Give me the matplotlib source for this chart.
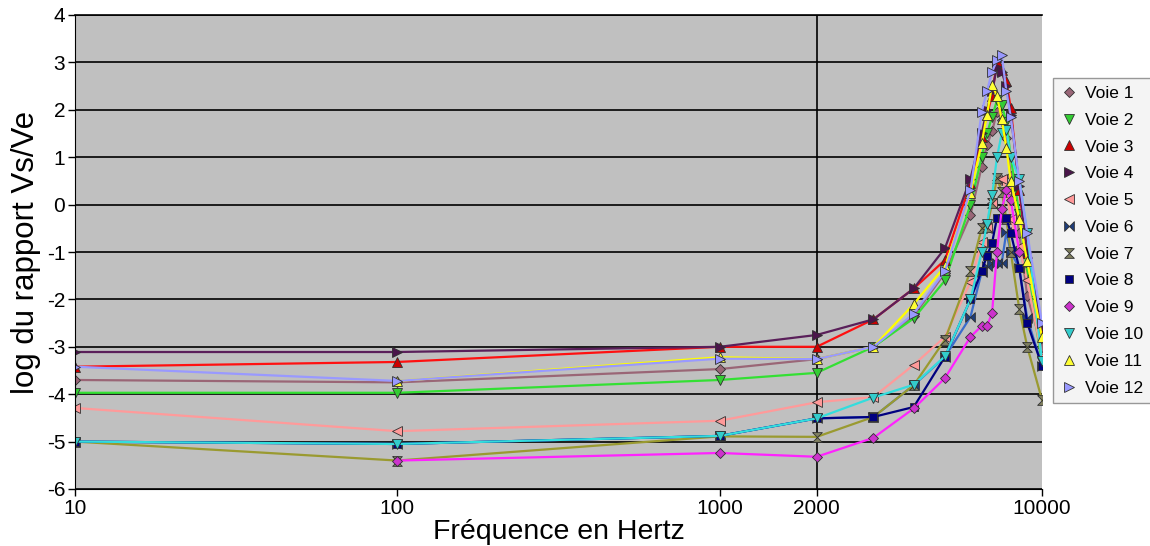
import numpy as np
import matplotlib.pyplot as plt
from matplotlib.path import Path
from matplotlib.lines import Line2D

plt.rcParams['font.family'] = ['Liberation Sans', 'DejaVu Sans']
plt.rcParams['axes.unicode_minus'] = False

# Fréquences de mesure (Hz)
freq = [10, 100, 1000, 2000, 3000, 4000, 5000, 6000, 6500, 6750,
        7000, 7250, 7500, 7750, 8000, 8500, 9000, 10000]
nan = np.nan

# log du rapport Vs/Ve pour chaque voie
voie1 = [-3.70, -3.75, -3.47, -3.26, -3.00, -2.35, -1.44, -0.22, 0.80, 1.25,
         1.55, 1.95, 1.78, 1.40, 0.60, -0.60, -1.93, -3.00]
voie2 = [-3.97, -3.97, -3.70, -3.55, -3.00, -2.40, -1.60, 0.00, 1.00, 1.50,
         1.85, 2.20, 2.10, 1.75, 1.00, -0.20, -1.42, -3.33]
voie3 = [-3.42, -3.32, -3.00, -3.00, -2.42, -1.77, -1.17, 0.46, 1.43, 1.90,
         2.30, 3.02, 2.85, 2.60, 2.04, 0.30, -1.03, -2.62]
voie4 = [-3.11, -3.11, -3.00, -2.75, -2.42, -1.77, -0.92, 0.55, 1.50, 2.00,
         2.40, 2.90, 2.80, 2.50, 1.90, 0.40, -1.00, -2.60]
voie5 = [-4.29, -4.78, -4.56, -4.17, -4.06, -3.38, -2.79, -1.63, -0.79, -0.50,
         0.03, 0.52, 0.55, 0.30, -0.30, -0.90, -1.60, -3.20]
voie6 = [-5.00, -5.05, -4.88, -4.51, -4.48, -3.81, -3.21, -2.37, -1.42, -1.30,
         -1.23, -1.23, -1.23, -0.58, -1.00, -1.34, -2.40, -3.40]
voie7 = [-5.00, -5.40, -4.89, -4.90, -4.48, -3.81, -2.85, -1.40, -0.50, -0.47,
         0.03, 0.56, 0.27, -0.30, -1.00, -2.20, -3.00, -4.12]
voie8 = [-5.00, -5.05, -4.88, -4.51, -4.48, -4.27, -3.21, -2.00, -1.40, -1.08,
         -0.81, -0.28, -0.28, -0.28, -0.60, -1.34, -2.50, -3.40]
voie9 = [nan, -5.40, -5.24, -5.32, -4.92, -4.30, -3.66, -2.79, -2.56, -2.56,
         -2.29, -1.00, -0.10, 0.30, 0.10, -1.00, nan, nan]
voie10 = [-5.00, -5.05, -4.88, -4.51, -4.07, -3.80, -3.20, -2.00, -1.00, -0.40,
          0.20, 1.00, 1.50, 1.57, 1.00, 0.55, -0.60, -3.30]
voie11 = [nan, -3.72, -3.22, -3.26, -3.00, -2.10, -1.30, 0.24, 1.30, 1.90,
          2.52, 2.30, 1.80, 1.20, 0.50, -0.30, -1.20, -2.80]
voie12 = [-3.42, -3.72, -3.25, -3.26, -3.00, -2.30, -1.40, 0.30, 1.95, 2.40,
          2.80, 3.05, 3.16, 2.40, 1.85, 0.50, -0.60, -2.50]

series = [voie1, voie2, voie3, voie4, voie5, voie6,
          voie7, voie8, voie9, voie10, voie11, voie12]
labels = ['Voie %d' % i for i in range(1, 13)]

# marqueurs façon Excel
bowtie = Path([(-1, 1), (1, -1), (1, 1), (-1, -1), (-1, 1)])
hourglass = Path([(-1, 1), (1, 1), (-1, -1), (1, -1), (-1, 1)])

line_colors = ['#9a6676', '#33e033', '#ff1010', '#5a1f5a', '#ff9a9a', '#3a6ccc',
               '#9a9a30', '#000080', '#ff22ff', '#33dddd', '#ffff00', '#9999ff']
marker_colors = ['#996677', '#33cc33', '#cc0000', '#4a154a', '#ff9999', '#1f3d7a',
                 '#808060', '#000080', '#cc33cc', '#33cccc', '#ffff33', '#9999ff']
markers = ['D', 'v', '^', '>', '<', bowtie, hourglass, 's', 'D', 'v', '^', '>']
msizes = [5, 7, 7, 7, 7, 7, 7, 6, 5, 7, 7, 7]

fig = plt.figure(figsize=(11.5, 5.46), dpi=100)
ax = fig.add_axes([75 / 1150, 1 - 489 / 546, 967 / 1150, 474 / 546])
ax.set_facecolor('#c0c0c0')

for vals, lc, mc, mk, ms in zip(series, line_colors, marker_colors, markers, msizes):
    ax.plot(freq, vals, color=lc, lw=1.6, marker=mk, markersize=ms,
            markerfacecolor=mc, markeredgecolor='#303030', markeredgewidth=0.6)

ax.set_xscale('log')
ax.set_xlim(10, 10000)
ax.set_ylim(-6, 4)
ax.set_yticks(range(-6, 5))
ax.set_xticks([10, 100, 1000, 2000, 10000])
ax.set_xticklabels(['10', '100', '1000', '2000', '10000'])
ax.xaxis.set_minor_locator(plt.NullLocator())
ax.tick_params(axis='both', labelsize=15, direction='out', length=5, width=1, pad=2)
ax.grid(axis='y', color='black', lw=1.2)
ax.set_axisbelow(True)
ax.axvline(2000, color='black', lw=1.2, zorder=1)
ax.spines['right'].set_visible(False)
ax.spines['top'].set_linewidth(1.2)

ax.set_xlabel('Fréquence en Hertz', fontsize=20.5, labelpad=1)
ax.set_ylabel('log du rapport Vs/Ve', fontsize=22.5, labelpad=4)

handles = [Line2D([], [], ls='none', marker=mk, markersize=ms, markerfacecolor=mc,
                  markeredgecolor='#303030', markeredgewidth=0.6)
           for mk, mc, ms in zip(markers, marker_colors, msizes)]
leg = fig.legend(handles, labels, loc='upper left',
                 bbox_to_anchor=(1053 / 1150, 1 - 78 / 546), borderaxespad=0,
                 fontsize=12.5, frameon=True, fancybox=False, borderpad=0.45,
                 labelspacing=0.67, handlelength=0.9, handletextpad=0.5)
leg.get_frame().set_edgecolor('#808080')
leg.get_frame().set_facecolor('#f2f2f2')
leg.get_frame().set_linewidth(1)

fig.savefig('out.png', dpi=100)
